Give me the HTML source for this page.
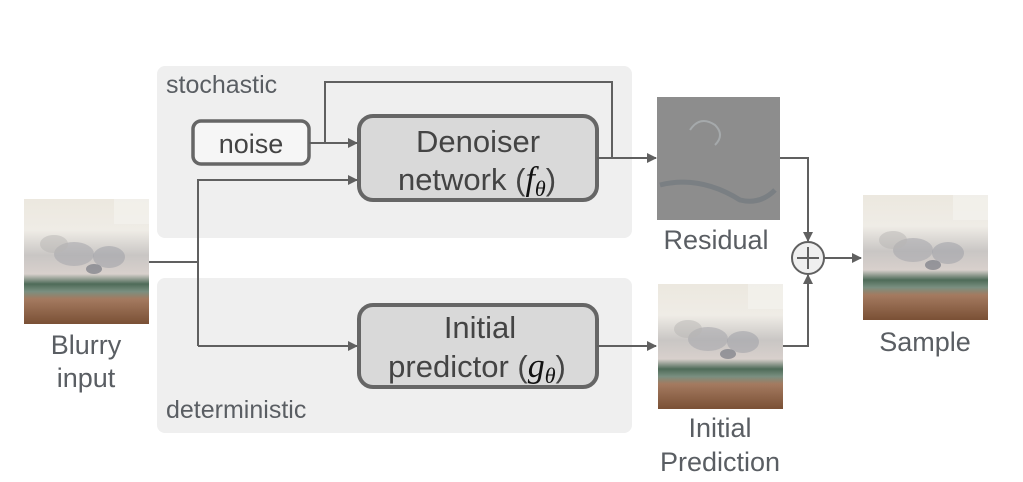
<!DOCTYPE html>
<html><head><meta charset="utf-8"><style>
html,body{margin:0;padding:0;background:#fff;width:1023px;height:482px;overflow:hidden}
text{font-family:"Liberation Sans",sans-serif;fill:#5a5e63}
.b{fill:#444}
.m{font-family:"Liberation Serif",serif;font-style:italic;fill:#111}
</style></head><body>
<svg width="1023" height="482" viewBox="0 0 1023 482" xmlns="http://www.w3.org/2000/svg">
<defs>
<marker id="a" markerWidth="10" markerHeight="10" refX="9" refY="5" orient="auto" markerUnits="userSpaceOnUse">
<path d="M0,0 L10,5 L0,10 z" fill="#606060"/></marker>
<linearGradient id="photo" x1="0" y1="0" x2="0" y2="1">
<stop offset="0" stop-color="#ece8df"/><stop offset="0.25" stop-color="#efece6"/>
<stop offset="0.45" stop-color="#c9c6c4"/><stop offset="0.6" stop-color="#d8d0cc"/>
<stop offset="0.68" stop-color="#4e6b58"/><stop offset="0.74" stop-color="#7a8f80"/>
<stop offset="0.8" stop-color="#a47a60"/><stop offset="1" stop-color="#7a5035"/>
</linearGradient>
<g id="img">
<rect width="125" height="125" fill="url(#photo)"/>
<ellipse cx="50" cy="55" rx="20" ry="12" fill="#a9a9ad" opacity="0.6"/>
<ellipse cx="85" cy="58" rx="16" ry="11" fill="#9a9ca4" opacity="0.5"/>
<ellipse cx="30" cy="45" rx="14" ry="9" fill="#b8b6b4" opacity="0.5"/>
<ellipse cx="70" cy="70" rx="8" ry="5" fill="#555c6a" opacity="0.5"/>
<rect x="90" y="0" width="35" height="25" fill="#f4f2ee" opacity="0.7"/>
</g>
</defs>
<rect x="157" y="66" width="475" height="172" rx="8" fill="#efefef"/>
<rect x="157" y="278" width="475" height="155" rx="8" fill="#efefef"/>
<text x="166" y="93" font-size="25">stochastic</text>
<text x="166" y="418" font-size="25">deterministic</text>

<rect x="193" y="121" width="116" height="43" rx="8" fill="#f6f6f6" stroke="#666" stroke-width="3.5"/>
<text x="251" y="153" font-size="27" text-anchor="middle" class="b">noise</text>

<rect x="359" y="116" width="238" height="84" rx="14" fill="#d9d9d9" stroke="#666" stroke-width="4"/>
<text x="478" y="152" font-size="31" text-anchor="middle" class="b">Denoiser</text>
<text x="477" y="190" font-size="31" text-anchor="middle" class="b">network (<tspan class="m" font-size="34">f</tspan><tspan class="m" font-size="22" dy="6">θ</tspan><tspan dy="-6">)</tspan></text>

<rect x="359" y="305" width="238" height="82" rx="14" fill="#d9d9d9" stroke="#666" stroke-width="4"/>
<text x="480" y="338" font-size="31" text-anchor="middle" class="b">Initial</text>
<text x="477" y="377" font-size="31" text-anchor="middle" class="b">predictor (<tspan class="m" font-size="34">g</tspan><tspan class="m" font-size="22" dy="6">θ</tspan><tspan dy="-6">)</tspan></text>

<g fill="none" stroke="#606060" stroke-width="2">
<path d="M149,262 H198"/>
<path d="M198,346 V180 H357" marker-end="url(#a)"/>
<path d="M198,346 H357" marker-end="url(#a)"/>
<path d="M309,143 H357" marker-end="url(#a)"/>
<path d="M325,143 V82 H612 V158"/>
<path d="M597,158 H656" marker-end="url(#a)"/>
<path d="M597,346 H656" marker-end="url(#a)"/>
<path d="M780,158 H808 V241" marker-end="url(#a)"/>
<path d="M783,346 H808 V275" marker-end="url(#a)"/>
<path d="M824,258 H861" marker-end="url(#a)"/>
</g>
<circle cx="808" cy="258" r="16" fill="#efefef" stroke="#606060" stroke-width="2"/>
<path d="M797,258 H819 M808,247 V269" stroke="#606060" stroke-width="2"/>

<use href="#img" x="24" y="199"/>
<rect x="657" y="97" width="123" height="123" fill="#8d8d8d"/>
<path d="M660,185 Q700,175 740,200 Q760,205 775,190" stroke="#7a7f83" stroke-width="5" fill="none"/>
<path d="M690,130 q10,-15 25,-5 q10,10 0,20" stroke="#a5a9ab" stroke-width="2" fill="none"/>
<use href="#img" x="658" y="284"/>
<use href="#img" x="863" y="195"/>

<text x="86" y="354" font-size="27" text-anchor="middle">Blurry</text>
<text x="86" y="387" font-size="27" text-anchor="middle">input</text>
<text x="716" y="249" font-size="27" text-anchor="middle">Residual</text>
<text x="720" y="437" font-size="27" text-anchor="middle">Initial</text>
<text x="720" y="471" font-size="27" text-anchor="middle">Prediction</text>
<text x="925" y="351" font-size="27" text-anchor="middle">Sample</text>
</svg>
</body></html>
